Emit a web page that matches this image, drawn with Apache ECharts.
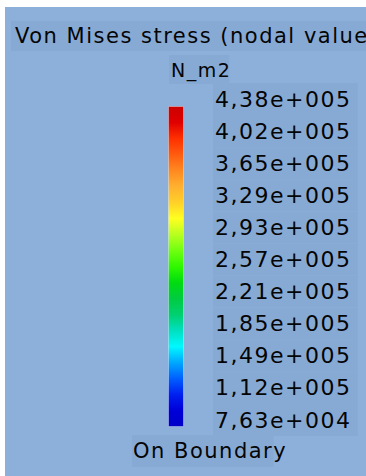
<!DOCTYPE html>
<html><head><meta charset="utf-8">
<script src="https://cdn.jsdelivr.net/npm/echarts@6/dist/echarts.min.js"></script>
<style>
html,body{margin:0;padding:0;background:#fff;width:366px;height:476px;overflow:hidden}
#chart{position:absolute;left:5px;top:7px;width:361px;height:469px}
#chart svg text{letter-spacing:1.5px}
</style></head><body><div id="chart"></div>
<script>
const titleText = 'Von Mises stress (nodal values)';
const unitText = 'N_m2';
const footerText = 'On Boundary';
// bottom to top
const tickLabels = ['7,63e+004','1,12e+005','1,49e+005','1,85e+005','2,21e+005','2,57e+005','2,93e+005','3,29e+005','3,65e+005','4,02e+005','4,38e+005'];
// colour scale, evenly spaced from bottom (low) to top (high)
const colorScale = ['#0000c8','#0000d8','#0020f0','#0060ff','#00a8ff','#00f8ff','#00e0c0','#00d070','#00cc40','#00dc10','#30f800','#70ff10','#b8ff20','#ffff20','#ffd028','#ffb030','#ff8820','#ff5c10','#ff3000','#e00000','#cc0000'];
const barCategories = [''];
const barValues = [tickLabels.length - 1];

const FONT = 'DejaVu Sans';
const BG = '#8db0db';
const BOX = '#87aad5';
const TXT = '#050505';

const chart = echarts.init(document.getElementById('chart'), null, {renderer: 'svg'});
const stops = colorScale.map((c, i) => ({offset: i / (colorScale.length - 1), color: c}));

chart.setOption({
  backgroundColor: BG,
  animation: false,
  title: [
    {text: titleText, left: 6, top: 14, padding: [3, 60, 3, 4], backgroundColor: BOX,
     textStyle: {fontFamily: FONT, fontSize: 21, fontWeight: 'normal', color: TXT, lineHeight: 24}},
    {text: unitText, left: 164, top: 48, padding: [3, 4, 3, 2], backgroundColor: BOX,
     textStyle: {fontFamily: FONT, fontSize: 19, fontWeight: 'normal', color: TXT, lineHeight: 23}},
    {text: footerText, left: 127, top: 428, padding: [4, 3, 4, 1], backgroundColor: BOX,
     textStyle: {fontFamily: FONT, fontSize: 21, fontWeight: 'normal', color: TXT, lineHeight: 24}}
  ],
  grid: [
    {left: 163, top: 99, width: 16, height: 321, outerBoundsMode: 'none', containLabel: false},
    {left: 163, top: 92, width: 16, height: 321, outerBoundsMode: 'none', containLabel: false}
  ],
  xAxis: [
    {type: 'category', gridIndex: 0, data: barCategories, show: false},
    {type: 'category', gridIndex: 1, data: barCategories, show: false}
  ],
  yAxis: [
    {type: 'value', gridIndex: 0, min: 0, max: tickLabels.length - 1, interval: 1, show: false},
    {type: 'value', gridIndex: 1, min: 0, max: tickLabels.length - 1, interval: 1, position: 'right',
     axisLine: {show: false}, axisTick: {show: false}, splitLine: {show: false},
     axisLabel: {
       show: true, margin: 29, showMinLabel: true, showMaxLabel: true,
       formatter: v => tickLabels[Math.round(v)],
       fontFamily: FONT, fontSize: 22, color: TXT, verticalAlign: 'middle', align: 'left',
       lineHeight: 26, padding: [3, 20, 3, 2], backgroundColor: BOX
     }}
  ],
  series: [{
    type: 'bar', xAxisIndex: 0, yAxisIndex: 0, data: barValues, barWidth: '100%',
    silent: true,
    itemStyle: {
      color: new echarts.graphic.LinearGradient(0, 1, 0, 0, stops),
      borderColor: 'rgba(255,255,255,0.35)', borderWidth: 1
    }
  }]
});
</script></body></html>
